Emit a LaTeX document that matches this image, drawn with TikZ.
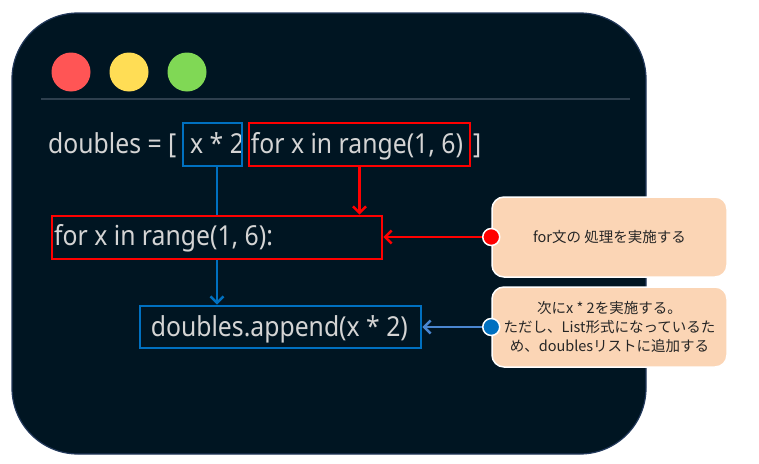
\documentclass[tikz,border=0pt]{standalone}
\usepackage{fontspec}
\setmainfont{Noto Sans}
\newfontfamily\codefont[FakeStretch=0.9]{Noto Sans}
\newfontfamily\jpfont{Noto Sans CJK JP}
\usetikzlibrary{arrows.meta}
\definecolor{win}{HTML}{001522}
\definecolor{winborder}{HTML}{22385A}
\definecolor{sepline}{HTML}{2E3F4E}
\definecolor{codetext}{HTML}{D4D4D4}
\definecolor{boxred}{HTML}{FF0000}
\definecolor{boxblue}{HTML}{0070C0}
\definecolor{lineblue}{HTML}{4A86D0}
\definecolor{callfill}{HTML}{FBD5B5}
\definecolor{calltext}{HTML}{262626}
\definecolor{lightred}{HTML}{FF5555}
\definecolor{lightyellow}{HTML}{FFDD55}
\definecolor{lightgreen}{HTML}{80D855}
\tikzset{
  code/.style={font=\codefont\fontsize{27.5}{30}\selectfont, text=codetext, inner sep=0pt, anchor=base west},
  hlbox/.style={draw=#1, line width=2.6pt, inner sep=0pt},
  conn/.style={line width=2.6pt, -{Straight Barb[length=6.5pt,width=13pt]}},
  plain/.style={line width=2.6pt},
  callout/.style={fill=callfill, draw=white, line width=1.5pt, rounded corners=12pt,
    minimum width=235pt, minimum height=80pt, align=center, text=calltext,
    font=\jpfont\fontsize{14.5}{19}\selectfont},
  dot/.style={circle, fill=#1, draw=white, line width=1.5pt, minimum size=17pt, inner sep=0pt},
  light/.style={circle, fill=#1, minimum size=39pt, inner sep=0pt}
}
\begin{document}
\begin{tikzpicture}[x=1pt,y=-1pt]
\useasboundingbox (0,0) rectangle (759,463);
% window
\draw[winborder, fill=win, line width=1.2pt, rounded corners=66pt] (12,13) rectangle (646,454);
\node[light=lightred] (l1) at (71,72) {};
\node[light=lightyellow] (l2) at (129,72) {};
\node[light=lightgreen] (l3) at (187,72) {};
\draw[sepline, line width=2.5pt] (41,99) -- (630,99);
% code text
\node[code] (t1) at (48,153) {doubles = [};
\node[code] (t2) at (190,153) {x * 2};
\node[code] (t3) at (250.7,153) {for x in range(1, 6)};
\node[code] (t4) at (473,153) {]};
\node[code] (t5) at (54,245) {for x in range(1, 6):};
\node[code] (t6) at (150.7,336.7) {doubles.append(x * 2)};
% highlight boxes
\node[hlbox=boxblue, minimum width=59pt, minimum height=43pt] (b1) at (212.5,144.5) {};
\node[hlbox=boxred, minimum width=221pt, minimum height=43pt] (r1) at (359.5,144.5) {};
\node[hlbox=boxred, minimum width=330pt, minimum height=43pt] (r2) at (217,237.5) {};
\node[hlbox=boxblue, minimum width=281pt, minimum height=42pt] (b2) at (280.5,327) {};
% callouts
\node[callout] (c1) at (609.5,237) {for文の 処理を実施する};
\node[callout] (c2) at (609.5,327) {次にx * 2を実施する。\\ただし、List形式になっているた\\め、doublesリストに追加する};
\node[dot=boxred] (d1) at (c1.west) {};
\node[dot=boxblue] (d2) at (c2.west) {};
% connectors
\draw[plain, boxblue] (b1.south -| r2.south) -- (r2.north);
\draw[conn, boxblue] (r2.south) -- (r2.south |- b2.north);
\draw[conn, boxred] (r1.south) -- (r1.south |- r2.north);
\draw[conn, boxred] (d1.west) -- (d1.west -| r2.east);
\draw[conn, lineblue] (d2.west) -- (d2.west -| b2.east);
\end{tikzpicture}
\end{document}
